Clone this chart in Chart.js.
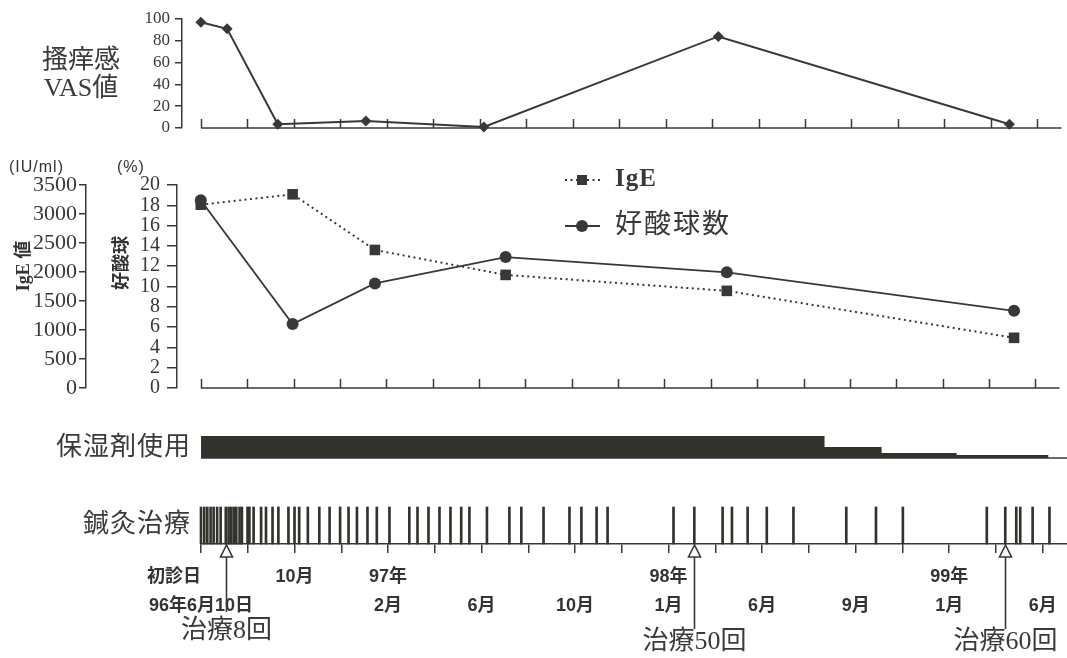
<!DOCTYPE html>
<html lang="ja">
<head>
<meta charset="UTF-8">
<title>搔痒感・IgE・好酸球数の推移</title>
<script src="https://cdn.jsdelivr.net/npm/chart.js"></script>
<style>
    body { margin: 0; background: #fff; }
    #figure { position: relative; width: 1067px; height: 658px; overflow: hidden; background: #fff; }
    #figure canvas { position: absolute; left: 0; }
    .lbl { position: absolute; color: #3a3a3a; white-space: nowrap;
           font-family: "Liberation Serif", "Noto Sans CJK JP", serif; }
    .rot { transform: translate(-50%, -50%) rotate(-90deg); font-weight: bold; font-size: 18px; color: #333; }
    .unit { font-family: "Liberation Sans", "Noto Sans CJK JP", sans-serif; font-size: 16px; letter-spacing: 1px; color: #333; }
    .row { left: 0; width: 191px; text-align: right; font-size: 26px; line-height: 30px; letter-spacing: 1px; }
</style>
</head>
<body>
<div id="figure">
    <canvas id="vasChart" width="1067" height="145" style="top:0"></canvas>
    <canvas id="labChart" width="1067" height="255" style="top:150px"></canvas>
    <canvas id="moistChart" width="1067" height="40" style="top:426px"></canvas>
    <canvas id="acuChart" width="1067" height="163" style="top:495px"></canvas>

    <div class="lbl" style="left:30px; top:46px; width:102px; text-align:center; font-size:26px; line-height:28px;">搔痒感<br>VAS値</div>
    <div class="lbl unit" style="left:9px; top:158px;">(IU/ml)</div>
    <div class="lbl unit" style="left:117px; top:158px;">(%)</div>
    <div class="lbl rot" style="left:21px; top:266px;">IgE 値</div>
    <div class="lbl rot" style="left:119px; top:263px;">好酸球</div>
    <div class="lbl row" style="top:432px;">保湿剤使用</div>
    <div class="lbl row" style="top:509px;">鍼灸治療</div>
</div>

<script>
    // x values are months since the first visit (1996-06-10)
    const vasMonths = [0, 1.13, 3.31, 7.1, 12.18, 22.27, 34.8];
    const vasValues = [97, 91, 3.5, 6.5, 1, 84, 3.5];

    const labMonths = [0, 3.96, 7.51, 13.15, 22.69, 35.08];
    const igeValues = [3160, 3340, 2380, 1950, 1675, 865];
    const eosValues = [18.5, 6.3, 10.3, 12.9, 11.4, 7.6];

    // moisturizer use: relative amount, stepping down
    const moistMonths = [0, 26.67, 29.11, 32.32, 36.25];
    const moistLevel = [100, 50, 23, 14, 0];

    // one mark per acupuncture session
    const acuMonths = [
        0, 0.14, 0.27, 0.41, 0.54, 0.69, 0.84, 1.06,
        1.18, 1.29, 1.40, 1.51, 1.65, 1.75, 1.99, 2.07, 2.25, 2.57, 2.78, 3.06, 3.31,
        3.74, 4.00, 4.20, 4.57, 5.06, 5.50, 5.95, 6.31, 6.67, 7.12, 7.52, 8.06,
        8.91, 9.26, 9.73, 10.20, 10.67, 11.13, 11.48, 12.23, 13.19, 13.70, 14.65,
        15.76, 16.27, 16.92, 17.39, 20.21, 21.10,
        22.31, 22.71, 23.38, 24.20, 25.34, 27.60, 28.87, 30.02, 33.61, 34.40,
        34.87, 35.04, 35.57, 36.29
    ];

    const arrowMonths = [1.06, 21.10, 34.40];
    const arrowLabels = ['治療8回', '治療50回', '治療60回'];

    const tickMonths = [0, 2, 4, 6, 8, 10, 12, 14, 16, 18, 20, 22, 24, 26, 28, 30, 32, 34, 36];
    const labelMonths = [0, 4, 8, 12, 16, 20, 24, 28, 32, 36];
    const labelLine1 = ['初診日\u3000\u3000\u3000', '10月', '97年', '', '', '98年', '', '', '99年', ''];
    const labelLine2 = ['96年6月10日', '', '2月', '6月', '10月', '1月', '6月', '9月', '1月', '6月'];

    const INK = '#383838';
    const BAR = '#33332d';
    const SERIF = '"Liberation Serif", "Noto Sans CJK JP", serif';
    const SANS = '"Liberation Sans", "Noto Sans CJK JP", sans-serif';

    // every panel shares the same month -> pixel mapping
    const X0 = 201;      // pixel of month 0
    const PPM = 23.38;   // pixels per month
    const XMAX = (1067 - X0) / PPM;
    function monthScale(left) {
        return { type: 'linear', display: false, min: -(X0 - left) / PPM, max: XMAX };
    }

    function points(xs, ys) {
        return xs.map((x, i) => ({ x: x, y: ys[i] }));
    }

    function leftAxis(min, max, step, width, fontSize, tickLen, pad, weight) {
        return {
            position: 'left', weight: weight || 0, min: min, max: max,
            afterFit: s => { s.width = width; },
            ticks: { stepSize: step, autoSkip: false, padding: pad, color: INK,
                     font: { family: SERIF, size: fontSize, lineHeight: 1 },
                     callback: v => String(v) },
            grid: { drawOnChartArea: false, tickLength: tickLen, color: INK, lineWidth: 1.5 },
            border: { color: INK, width: 1.5 }
        };
    }

    // x baseline starting at month 0, with short tick marks
    const baseAxis = {
        id: 'baseAxis',
        beforeDatasetsDraw(chart, args, opts) {
            const ctx = chart.ctx;
            const xs = chart.scales.x;
            const y0 = chart.scales.y.getPixelForValue(0);
            ctx.save();
            ctx.strokeStyle = INK;
            ctx.lineWidth = 1.5;
            ctx.beginPath();
            ctx.moveTo(xs.getPixelForValue(0), y0);
            ctx.lineTo(chart.chartArea.right, y0);
            (opts.ticks || []).forEach(t => {
                const x = Math.round(xs.getPixelForValue(t)) + 0.5;
                ctx.moveTo(x, y0);
                ctx.lineTo(x, y0 - opts.len);
            });
            ctx.stroke();
            ctx.restore();
        }
    };

    // legend drawn inside the lab panel
    const markerLegend = {
        id: 'markerLegend',
        afterDraw(chart, args, opts) {
            const ctx = chart.ctx;
            ctx.save();
            opts.rows.forEach((row, i) => {
                const ds = chart.data.datasets[i];
                const y = row.y;
                ctx.strokeStyle = INK;
                ctx.lineWidth = ds.borderWidth;
                ctx.setLineDash(ds.borderDash || []);
                ctx.beginPath();
                ctx.moveTo(opts.x, y);
                ctx.lineTo(opts.x + 35, y);
                ctx.stroke();
                ctx.setLineDash([]);
                ctx.fillStyle = INK;
                const cx = opts.x + 17;
                if (ds.pointStyle === 'rect') {
                    ctx.fillRect(cx - 5, y - 5, 10, 10);
                } else {
                    ctx.beginPath();
                    ctx.arc(cx, y, 6, 0, Math.PI * 2);
                    ctx.fill();
                }
                ctx.font = row.font;
                ctx.letterSpacing = row.spacing || '0px';
                ctx.textBaseline = 'middle';
                ctx.textAlign = 'left';
                ctx.fillText(ds.label, opts.x + 50, y);
            });
            ctx.restore();
        }
    };

    // hollow arrows under the session axis
    const treatmentArrows = {
        id: 'treatmentArrows',
        afterDraw(chart, args, opts) {
            const ctx = chart.ctx;
            const xs = chart.scales.x;
            const yb = chart.chartArea.bottom;
            ctx.save();
            arrowMonths.forEach((m, i) => {
                const x = Math.round(xs.getPixelForValue(m)) + 0.5;
                ctx.strokeStyle = INK;
                ctx.lineWidth = 1.6;
                ctx.beginPath();
                ctx.moveTo(x, yb + 13);
                ctx.lineTo(x, yb + opts.stem[i]);
                ctx.stroke();
                ctx.beginPath();
                ctx.moveTo(x, yb + 1);
                ctx.lineTo(x - 6, yb + 13);
                ctx.lineTo(x + 6, yb + 13);
                ctx.closePath();
                ctx.fillStyle = '#fff';
                ctx.fill();
                ctx.stroke();
                ctx.fillStyle = '#3a3a3a';
                ctx.font = '26px ' + SERIF;
                ctx.textAlign = 'center';
                ctx.textBaseline = 'middle';
                ctx.fillText(arrowLabels[i], x, yb + opts.text[i]);
            });
            ctx.restore();
        }
    };

    const common = {
        responsive: false,
        animation: false,
        devicePixelRatio: 1,
        events: []
    };

    // itch VAS panel
    new Chart(document.getElementById('vasChart'), {
        type: 'line',
        data: {
            datasets: [{
                label: 'VAS',
                data: points(vasMonths, vasValues),
                borderColor: INK, borderWidth: 2,
                pointStyle: 'rectRot', pointRadius: 5.5,
                pointBackgroundColor: INK, pointBorderWidth: 0,
                clip: false
            }]
        },
        options: Object.assign({}, common, {
            layout: { padding: { top: 19, bottom: 17, left: 0, right: 0 } },
            plugins: {
                legend: { display: false }, tooltip: { enabled: false },
                baseAxis: { ticks: tickMonths, len: 9 }
            },
            scales: {
                x: monthScale(182),
                y: leftAxis(0, 100, 20, 182, 17, 7, 5)
            }
        }),
        plugins: [baseAxis]
    });

    // IgE and eosinophil panel
    new Chart(document.getElementById('labChart'), {
        type: 'line',
        data: {
            datasets: [{
                label: 'IgE',
                data: points(labMonths, igeValues),
                yAxisID: 'yIgE',
                borderColor: INK, borderWidth: 2, borderDash: [2, 3.5],
                pointStyle: 'rect', pointRadius: 7.5,
                pointBackgroundColor: INK, pointBorderWidth: 0,
                order: 1, clip: false
            }, {
                label: '好酸球数',
                data: points(labMonths, eosValues),
                yAxisID: 'y',
                borderColor: INK, borderWidth: 1.8,
                pointStyle: 'circle', pointRadius: 6,
                pointBackgroundColor: INK, pointBorderWidth: 0,
                order: 0, clip: false
            }]
        },
        options: Object.assign({}, common, {
            layout: { padding: { top: 35, bottom: 16, left: 0, right: 0 } },
            plugins: {
                legend: { display: false }, tooltip: { enabled: false },
                baseAxis: { ticks: tickMonths, len: 9 },
                markerLegend: {
                    x: 565,
                    rows: [
                        { y: 30, font: 'bold 25px ' + SERIF, spacing: '1px' },
                        { y: 76, font: '27px ' + SERIF, spacing: '2px' }
                    ]
                }
            },
            scales: {
                x: monthScale(177),
                y: leftAxis(0, 20, 2, 91, 20, 10, 7, 0),
                yIgE: leftAxis(0, 3500, 500, 86, 22, 7, 2, 1)
            }
        }),
        plugins: [baseAxis, markerLegend]
    });

    // moisturizer use (stepped band)
    new Chart(document.getElementById('moistChart'), {
        type: 'line',
        data: {
            datasets: [{
                label: '保湿剤使用',
                data: points(moistMonths, moistLevel),
                stepped: 'before', fill: 'origin',
                backgroundColor: BAR, borderWidth: 0, pointRadius: 0
            }]
        },
        options: Object.assign({}, common, {
            layout: { padding: { top: 10, bottom: 8, left: X0, right: 0 } },
            plugins: {
                legend: { display: false }, tooltip: { enabled: false },
                baseAxis: { ticks: [], len: 0 }
            },
            scales: {
                x: monthScale(X0),
                y: { display: false, min: 0, max: 100 }
            }
        }),
        plugins: [baseAxis]
    });

    // acupuncture sessions + date axis
    new Chart(document.getElementById('acuChart'), {
        type: 'bar',
        data: {
            datasets: [{
                label: '鍼灸治療',
                data: acuMonths.map(m => ({ x: m, y: 1 })),
                backgroundColor: BAR, borderWidth: 0,
                barThickness: 2, clip: false
            }]
        },
        options: Object.assign({}, common, {
            layout: { padding: { top: 12, bottom: 0, left: X0, right: 0 } },
            plugins: {
                legend: { display: false }, tooltip: { enabled: false },
                treatmentArrows: { stem: [68, 85, 85], text: [87, 98, 98] }
            },
            scales: {
                x: {
                    type: 'linear', min: 0, max: XMAX, offset: false,
                    afterFit: s => { s.height = 114; },
                    ticks: {
                        stepSize: 2, includeBounds: false, autoSkip: false, maxRotation: 0,
                        padding: 9.6, color: '#333',
                        font: { family: SANS, size: 18, weight: 'bold', lineHeight: 1.6 },
                        callback: v => {
                            const i = labelMonths.indexOf(v);
                            return i < 0 ? '' : [labelLine1[i], labelLine2[i]];
                        }
                    },
                    grid: { offset: false, drawOnChartArea: false, tickLength: 9, color: INK, lineWidth: 1.5 },
                    border: { color: INK, width: 1.5 }
                },
                y: { display: false, min: 0, max: 1 }
            }
        }),
        plugins: [treatmentArrows]
    });
</script>
</body>
</html>
